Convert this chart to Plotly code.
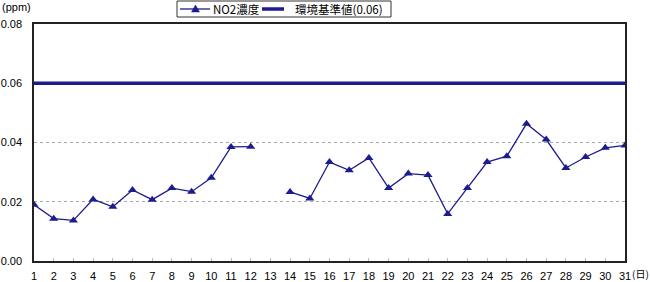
import plotly.graph_objects as go

days = list(range(1, 32))
no2 = [0.0190, 0.0143, 0.0137, 0.0208, 0.0183, 0.0240, 0.0207, 0.0246, 0.0234, 0.0281,
       0.0385, 0.0386, None, 0.0233, 0.0211, 0.0334, 0.0306, 0.0348, 0.0246, 0.0295,
       0.0290, 0.0159, 0.0246, 0.0334, 0.0354, 0.0463, 0.0410, 0.0314, 0.0351, 0.0382,
       0.0390]
standard_value = 0.06
standard_x = [1, 31]
y_ticks = [0.00, 0.02, 0.04, 0.06, 0.08]
y_tick_labels = ["0.00", "0.02", "0.04", "0.06", "0.08"]
x_tick_labels = [str(d) for d in days]
series_names = ["NO2濃度", "環境基準値(0.06)"]

NAVY = "#1c1c8e"
FONT = "Liberation Sans, Noto Sans CJK JP, sans-serif"
JP = "Noto Sans CJK JP, Liberation Sans"

W, H = 650, 282
ML, MR, MT, MB = 34, 25, 24, 21
PW, PH = W - ML - MR, H - MT - MB


def px(x):
    return (x - ML) / PW


def py(y):
    return 1 - (y - MT) / PH


fig = go.Figure()
fig.add_trace(go.Scatter(
    x=days, y=no2, name=series_names[0], mode="lines+markers",
    line=dict(color=NAVY, width=1.3),
    marker=dict(symbol="triangle-up", size=8, color=NAVY),
    connectgaps=False,
))
fig.add_trace(go.Scatter(
    x=standard_x, y=[standard_value] * len(standard_x), name=series_names[1], mode="lines",
    line=dict(color=NAVY, width=3.5),
))

# custom legend (box, symbols, texts)
ly = 9
tri = (f"M {px(195.5 - 4)} {py(ly + 3)} L {px(195.5 + 4)} {py(ly + 3)} "
       f"L {px(195.5)} {py(ly - 4)} Z")
shapes = [
    dict(type="rect", xref="paper", yref="paper", x0=px(177), x1=px(391), y0=py(17), y1=py(1),
         line=dict(color="#333", width=1), fillcolor="white", layer="above"),
    dict(type="line", xref="paper", yref="paper", x0=px(180), x1=px(210), y0=py(ly), y1=py(ly),
         line=dict(color=NAVY, width=1.3), layer="above"),
    dict(type="path", xref="paper", yref="paper", path=tri, fillcolor=NAVY,
         line=dict(color=NAVY, width=0.5), layer="above"),
    dict(type="line", xref="paper", yref="paper", x0=px(262), x1=px(284), y0=py(ly), y1=py(ly),
         line=dict(color=NAVY, width=3.5), layer="above"),
]

fig.update_layout(
    width=W, height=H,
    margin=dict(l=ML, r=MR, t=MT, b=MB, autoexpand=False),
    paper_bgcolor="white", plot_bgcolor="white",
    font=dict(family=FONT, size=11, color="#000"),
    showlegend=False,
    shapes=shapes,
    xaxis=dict(
        range=[1, 31], tickmode="array", tickvals=days, ticktext=x_tick_labels,
        showgrid=False, zeroline=False, automargin=False,
        showline=True, linecolor="#222", linewidth=1.5, mirror=True,
        ticks="inside", ticklen=3, tickcolor="#bbb", tickwidth=1,
        ticklabelstandoff=4,
        tickfont=dict(size=11),
    ),
    yaxis=dict(
        range=[0, 0.08], tickmode="array", tickvals=y_ticks, ticktext=y_tick_labels,
        showgrid=True, gridcolor="#aaaaaa", griddash="dot", gridwidth=1,
        zeroline=False, automargin=False,
        showline=True, linecolor="#222", linewidth=1.5, mirror=True,
        ticks="", ticklabelstandoff=8,
        tickfont=dict(size=11),
    ),
    annotations=[
        dict(text="(ppm)", xref="paper", yref="paper", x=px(0), y=py(7),
             xanchor="left", yanchor="middle", showarrow=False,
             font=dict(size=11)),
        dict(text="(日)", xref="paper", yref="paper", x=px(631), y=py(282),
             xanchor="left", yanchor="bottom", showarrow=False, borderpad=0,
             font=dict(family=JP, size=10)),
        dict(text=series_names[0], xref="paper", yref="paper", x=px(211), y=py(ly),
             xanchor="left", yanchor="middle", showarrow=False,
             font=dict(family=JP, size=11.5)),
        dict(text=series_names[1], xref="paper", yref="paper", x=px(293), y=py(ly),
             xanchor="left", yanchor="middle", showarrow=False,
             font=dict(family=JP, size=11.5)),
    ],
)

fig.write_html("out.html")
